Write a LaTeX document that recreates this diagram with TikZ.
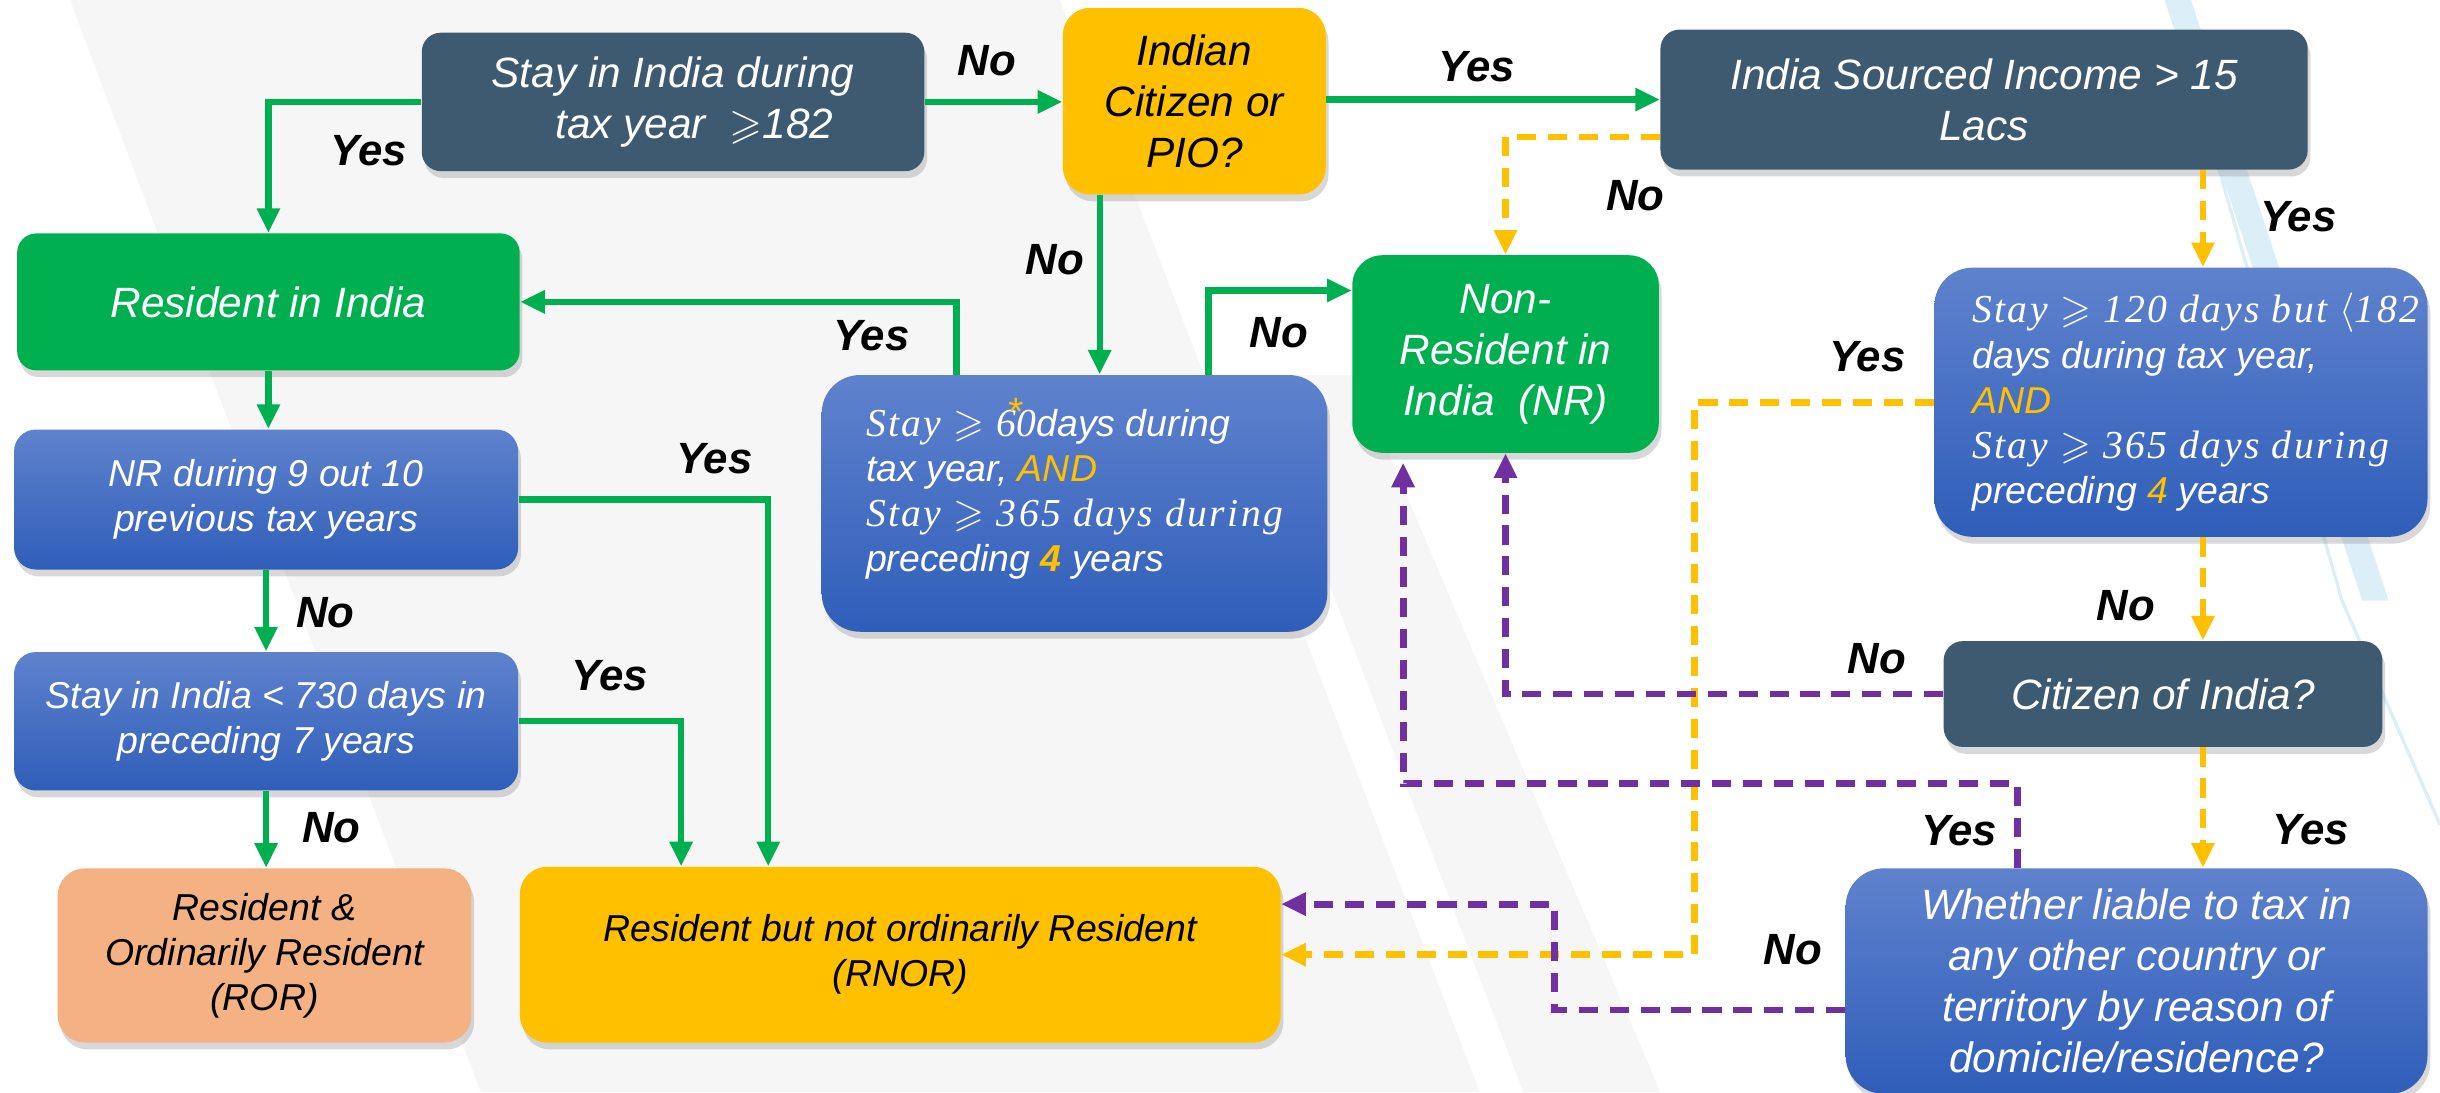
\documentclass[tikz,border=0pt]{standalone}
\usepackage{amssymb}
\usepackage{fontspec}
\setmainfont{Liberation Sans}
\newfontfamily\serifit[LetterSpace=6]{Liberation Serif}
\usetikzlibrary{arrows.meta,shadows}

\definecolor{slate}{HTML}{3D5A71}
\definecolor{leaf}{HTML}{00B050}
\definecolor{gold}{HTML}{FFC000}
\definecolor{salmon}{HTML}{F4B183}
\definecolor{plum}{HTML}{7030A0}
\definecolor{bluetop}{HTML}{5F82CD}
\definecolor{bluebot}{HTML}{2F5EB9}
\definecolor{paper}{HTML}{F6F6F6}
\definecolor{skyline}{HTML}{DCEFF7}

\newcommand\bigtxt{\fontsize{15.5}{18.7}\selectfont\itshape}
\newcommand\smalltxt{\fontsize{13.7}{16.5}\selectfont\itshape}
\newcommand\tagtxt{\fontsize{16}{19}\selectfont\bfseries\itshape}
\newcommand\sertxt{\serifit\itshape\fontsize{14.5}{16.5}\selectfont}

\tikzset{
  box/.style={rounded corners=7pt, align=center, inner sep=2pt,
    drop shadow={shadow xshift=1pt, shadow yshift=-2.5pt, opacity=.3}},
  darkbox/.style={box, fill=slate, text=white, font=\bigtxt},
  greenbox/.style={box, fill=leaf, text=white, font=\bigtxt},
  bluebox/.style={box, top color=bluetop, bottom color=bluebot, text=white,
    font=\smalltxt, rounded corners=14pt},
  goldbox/.style={box, fill=gold, text=black},
  yesno/.style={font=\tagtxt, inner sep=1pt},
  flow/.style={->, leaf, line width=2.3pt},
  ydash/.style={->, gold, line width=2.5pt, dash pattern=on 7pt off 4.3pt},
  pdash/.style={->, plum, line width=2.5pt, dash pattern=on 7pt off 4.3pt},
}

\begin{document}
\begin{tikzpicture}[x=0.02cm, y=-0.02cm, >={Triangle[length=9pt,width=8pt]}]
\useasboundingbox (0,0) rectangle (1568,702);
% backdrop bands
\fill[white] (0,0) rectangle (1568,702);
\fill[paper] (45,0) -- (681,0) -- (951,702) -- (309,702) -- cycle;
\fill[paper] (803,241) -- (871,241) -- (1067,702) -- (979,702) -- cycle;
\fill[skyline] (1391,0) -- (1408,0) -- (1535,386) -- (1518,386) -- cycle;
\draw[skyline, line width=1.2pt] (1395,0) -- (1505,386) -- (1568,530);

% decision boxes
\node[darkbox, minimum width=6.46cm, minimum height=1.78cm] (stay) at (432.5,65.5)
  {Stay in India during\\\hspace*{1em}tax year \ $\geqslant$182};
\node[goldbox, font=\bigtxt, minimum width=3.38cm, minimum height=2.40cm, rounded corners=10pt] (pio) at (767.5,65)
  {Indian\\Citizen or\\PIO?};
\node[darkbox, minimum width=8.32cm, minimum height=1.80cm] (income) at (1275,64)
  {India Sourced Income > 15\\Lacs};
\node[greenbox, minimum width=6.46cm, minimum height=1.76cm] (res) at (172.5,194)
  {Resident in India};
\node[bluebox, align=left, minimum width=6.50cm, minimum height=3.30cm] (sixty) at (690.5,323.5)
  {{\sertxt Stay $\geqslant$ 6\makebox[0pt]{\raisebox{.6ex}{\normalfont\color{gold}*}}0}days during\\
   tax year, \textcolor{gold}{AND}\\
   {\sertxt Stay $\geqslant$ 365 days during}\\
   preceding \textcolor{gold}{\bfseries 4} years\\[-3pt]\mbox{}};
\node[greenbox, minimum width=3.94cm, minimum height=2.54cm, rounded corners=11pt] (nr) at (967.5,227.5)
  {Non-\\Resident in\\India~~(NR)};
\node[bluebox, align=left, minimum width=6.34cm, minimum height=3.46cm] (onetwenty) at (1401.5,258.5)
  {\rlap{\sertxt Stay $\geqslant$ 120 days but $\langle$182}\\
   days during tax year,\\
   \textcolor{gold}{AND}\\
   {\sertxt Stay $\geqslant$ 365 days during}\\
   preceding \textcolor{gold}{4} years};
\node[bluebox, minimum width=6.48cm, minimum height=1.80cm, rounded corners=8pt] (nine) at (171,321)
  {NR during 9 out 10\\previous tax years};
\node[bluebox, minimum width=6.48cm, minimum height=1.78cm, rounded corners=8pt] (seven) at (171,463.5)
  {Stay in India < 730 days in\\preceding 7 years};
\node[box, fill=salmon, font=\smalltxt, minimum width=5.32cm, minimum height=2.24cm, rounded corners=10pt] (ror) at (170,614)
  {Resident \&\\Ordinarily Resident\\(ROR)};
\node[goldbox, font=\smalltxt, minimum width=9.78cm, minimum height=2.26cm, rounded corners=10pt] (rnor) at (578.5,613.5)
  {Resident but not ordinarily Resident\\(RNOR)};
\node[darkbox, minimum width=5.64cm, minimum height=1.36cm] (citizen) at (1390,446)
  {Citizen of India?};
\node[bluebox, font=\bigtxt, minimum width=7.48cm, minimum height=2.90cm] (liable) at (1373,630.5)
  {Whether liable to tax in\\any other country or\\territory by reason of\\domicile/residence?};

% where the connectors leave and enter the boxes
\path (pio.south west) ++(24,0) coordinate (p1);
\path (sixty.north west) ++(87,0) coordinate (s1);
\path (sixty.north west) ++(249,0) coordinate (s2);
\path (nr.north west) ++(0,23) coordinate (n1);
\path (nr.south west) ++(33,6) coordinate (n2);
\path (income.south west) ++(349,0) coordinate (i1);
\path (liable.north west) ++(111,0) coordinate (l1);
\path (liable.west) ++(0,18.5) coordinate (l2);
\path (rnor.east) ++(0,-32.5) coordinate (r1);
\path (rnor.north west) ++(160,0) coordinate (r2);
\path (rnor.north west) ++(104,0) coordinate (r3);

% solid green branches
\draw[flow] (stay.west) -| (res.north);
\draw[flow] (stay.east) -- (stay.east -| pio.west);
\draw[flow] (p1) -- (p1 |- sixty.north);
\draw[flow] (pio.east |- income.west) -- (income.west);
\draw[flow] (s1) |- (res.east);
\draw[flow] (s2) |- (n1);
\draw[flow] (res.south) -- (res.south |- nine.north);
\draw[flow] (nine.south) -- (seven.north);
\draw[flow] (seven.south) -- (seven.south |- ror.north);
\draw[flow] (nine.east) -| (r2);
\draw[flow] (seven.east) -| (r3);

% dashed yellow and purple branches
\draw[ydash] (income.west) ++(0,24) -| (nr.north);
\draw[ydash] (i1) -- (i1 |- onetwenty.north);
\draw[ydash] (onetwenty.west) -- ++(-154,0) |- (rnor.east);
\draw[ydash] (i1 |- onetwenty.south) -- (i1 |- citizen.north);
\draw[ydash] (i1 |- citizen.south) -- (i1 |- liable.north);
\draw[pdash] (citizen.west) -| (nr.south);
\draw[pdash] (l1) -- ++(0,-54) -| (n2);
\draw[pdash] (l2) -- ++(-187,0) |- (r1);

% branch labels
\node[yesno] (t1) at (237,97) {Yes};
\node[yesno] (t2) at (634,39) {No};
\node[yesno] (t3) at (678,167) {No};
\node[yesno] (t4) at (949,43) {Yes};
\node[yesno] (t5) at (560,216) {Yes};
\node[yesno] (t6) at (822,214) {No};
\node[yesno] (t7) at (1051,126) {No};
\node[yesno] (t8) at (1477,139) {Yes};
\node[yesno] (t9) at (1200,229) {Yes};
\node[yesno] (t10) at (1366,389) {No};
\node[yesno] (t11) at (1206,423) {No};
\node[yesno] (t12) at (1485,533) {Yes};
\node[yesno] (t13) at (1259,534) {Yes};
\node[yesno] (t14) at (1152,610) {No};
\node[yesno] (t15) at (209,394) {No};
\node[yesno] (t16) at (213,532) {No};
\node[yesno] (t17) at (459,295) {Yes};
\node[yesno] (t18) at (392,434) {Yes};
\end{tikzpicture}
\end{document}
